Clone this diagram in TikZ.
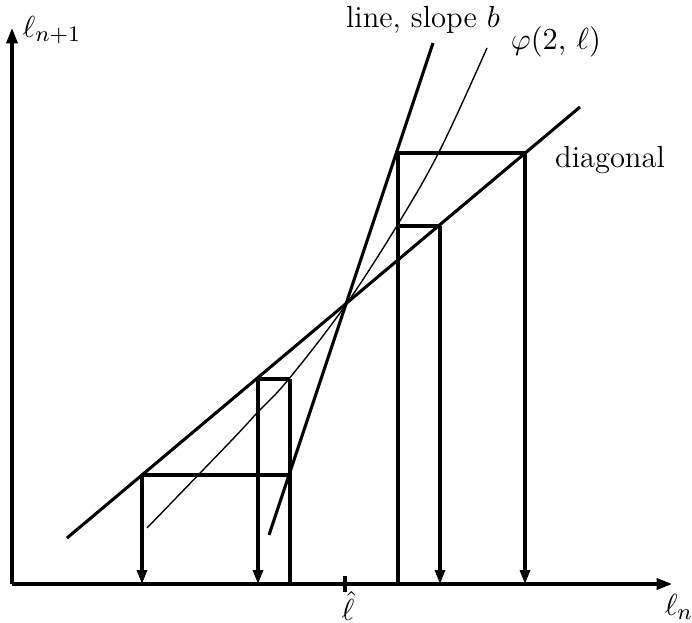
\documentclass[tikz,border=0pt]{standalone}
\usetikzlibrary{arrows.meta,calc}
\begin{document}
\begin{tikzpicture}[
  x=0.36pt, y=-0.36pt,
  >={Triangle[length=5pt, width=3.6pt]},
  axis/.style={->, line width=1.1pt, >={Triangle[length=5.5pt, width=4pt]}},
  heavy/.style={line width=1.1pt},
  light/.style={line width=0.5pt},
  drop/.style={->, line width=1.1pt},
  lbl/.style={inner sep=0.5pt, font=\fontsize{11}{13}\selectfont}
]
\useasboundingbox (0,0) rectangle (692,623);
\coordinate (O)    at (12,584);
\coordinate (ytip) at (12,28);
\coordinate (xtip) at (672,584);
\draw[axis] (O) -- (ytip);
\draw[axis] (O) -- (xtip);
\node[lbl] (ylab) at (52,30)  {$\ell_{n+1}$};
\node[lbl] (xlab) at (679,607) {$\ell_n$};
\coordinate (fix) at (345,304);
\coordinate (tick) at (fix |- O);
\draw[heavy] ($(tick)+(0,-8)$) -- ($(tick)+(0,8)$);
\node[lbl] (fixlab) at ($(tick)+(3,22)$) {$\hat\ell$};
\coordinate (dgA) at (67,538);
\coordinate (dgB) at (580,107);
\draw[heavy] (dgA) -- (dgB);
\coordinate (slA) at (269,535);
\coordinate (slB) at (433,43);
\draw[heavy] (slA) -- (slB);
\draw[light] plot[smooth, tension=0.6] coordinates
  {(147,528) (230,442) (257,413) (288,380) (345,306) (398,224) (440,150) (487,48)};
\node[lbl] (sllab)  at (423,20)  {line, slope $b$};
\node[lbl] (philab) at (556,42)  {$\varphi(2,\,\ell)$};
\node[lbl] (dglab)  at (610,160) {diagonal};
\coordinate (a1) at (142,475);
\coordinate (a2) at (290,475);
\coordinate (b1) at (258,379);
\coordinate (b2) at (290,379);
\draw[heavy] (a1) -- (a2);
\draw[heavy] (b1) -- (b2);
\draw[heavy] (b2) -- (b2 |- O);
\draw[drop] (a1) -- (a1 |- O);
\draw[drop] (b1) -- (b1 |- O);
\coordinate (c1) at (398,153);
\coordinate (c2) at (525,153);
\coordinate (d1) at (398,226);
\coordinate (d2) at (440,226);
\draw[heavy] (c1) -- (c2);
\draw[heavy] (d1) -- (d2);
\draw[heavy] (c1) -- (c1 |- O);
\draw[drop] (c2) -- (c2 |- O);
\draw[drop] (d2) -- (d2 |- O);
\end{tikzpicture}
\end{document}
